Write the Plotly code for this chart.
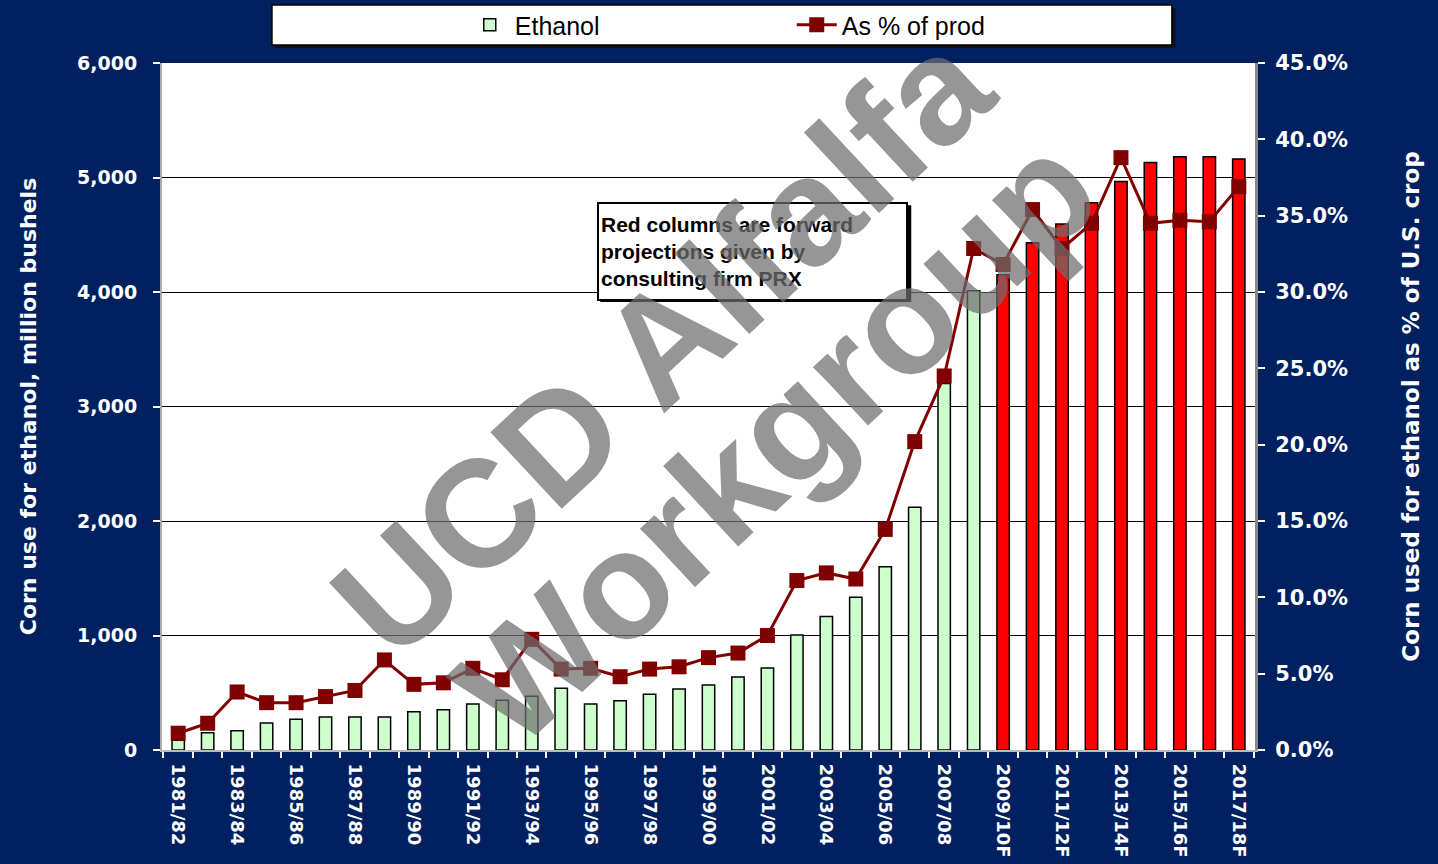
import plotly.graph_objects as go

categories = [f"{y}/{str(y + 1)[-2:]}" + ("F" if y >= 2009 else "") for y in range(1981, 2018)]

ethanol_hist = [85, 151, 169, 236, 268, 288, 288, 288, 335, 352, 402, 434, 469, 539,
                402, 431, 486, 533, 568, 638, 716, 1004, 1165, 1333, 1601, 2119, 3200, 4010]
ethanol_proj = [4150, 4430, 4594, 4780, 4964, 5132, 5182, 5182, 5162]
pct_of_prod = [1.1, 1.75, 3.8, 3.1, 3.1, 3.5, 3.9, 5.9, 4.3, 4.4, 5.35, 4.6, 7.25, 5.3,
               5.35, 4.8, 5.3, 5.45, 6.05, 6.35, 7.5, 11.1, 11.6, 11.2, 14.45, 20.2, 24.5,
               32.85, 31.8, 35.4, 32.85, 34.5, 38.8, 34.5, 34.7, 34.6, 36.9]

left_ticks = [0, 1000, 2000, 3000, 4000, 5000, 6000]
right_ticks = [0, 5, 10, 15, 20, 25, 30, 35, 40, 45]

n_hist = len(ethanol_hist)
hist_cats = categories[:n_hist]
proj_cats = categories[n_hist:]
tick_text = [c if i % 2 == 0 else "" for i, c in enumerate(categories)]

NAVY = "#002060"
FONT = "DejaVu Sans, Arial, sans-serif"

fig = go.Figure()
fig.add_trace(go.Bar(
    x=hist_cats, y=ethanol_hist, name="Ethanol",
    marker=dict(color="#CCFFCC", line=dict(color="black", width=1.5)),
    width=0.42,
))
fig.add_trace(go.Bar(
    x=proj_cats, y=ethanol_proj, name="Ethanol (projected)", showlegend=False,
    marker=dict(color="#FF0000", line=dict(color="black", width=1.5)),
    width=0.42,
))
fig.add_trace(go.Scatter(
    x=categories, y=pct_of_prod, name="As % of prod", yaxis="y2",
    mode="lines+markers",
    line=dict(color="#800000", width=3),
    marker=dict(symbol="square", size=15, color="#800000"),
))

# Legend box and shadow
fig.add_shape(type="rect", xref="paper", yref="paper",
              x0=0.1036, x1=0.9270, y0=1.0218, y1=1.0800,
              fillcolor="#111111", line=dict(width=0), layer="below")
fig.add_shape(type="rect", xref="paper", yref="paper",
              x0=0.1006, x1=0.9240, y0=1.0262, y1=1.0844,
              fillcolor="white", line=dict(color="black", width=1.5), layer="below")

# Note box shadow
fig.add_shape(type="rect", xref="paper", yref="paper",
              x0=0.401, x1=0.6855, y0=0.652, y1=0.793,
              fillcolor="black", line=dict(width=0), layer="above")

fig.add_annotation(
    xref="paper", yref="paper", x=0.398, y=0.7977, xanchor="left", yanchor="top",
    text="Red columns are forward<br>projections given by<br>consulting firm PRX",
    showarrow=False, align="left", width=303, height=91,
    font=dict(family="Liberation Sans, Arial", size=21, color="black", weight="bold"),
    bgcolor="white", bordercolor="black", borderwidth=2, borderpad=2,
)

# Watermark (two lines, rotated)
wm_font = dict(family="Liberation Sans, Arial", size=152, color="rgba(110,110,110,0.72)")
fig.add_annotation(
    xref="paper", yref="paper", x=0.4575, y=0.592, xanchor="center", yanchor="middle",
    text="<b>UCD Alfalfa</b>", showarrow=False, textangle=-43, font=wm_font,
)
fig.add_annotation(
    xref="paper", yref="paper", x=0.5618, y=0.452, xanchor="center", yanchor="middle",
    text="<b>Workgroup</b>", showarrow=False, textangle=-43, font=wm_font,
)

fig.update_layout(
    width=1438, height=864,
    paper_bgcolor=NAVY, plot_bgcolor="white",
    margin=dict(l=162, r=183, t=63, b=114, autoexpand=False),
    barmode="overlay", bargap=0.58,
    showlegend=True,
    legend=dict(orientation="h", x=0.277, y=1.0553, xanchor="left", yanchor="middle",
                bgcolor="rgba(0,0,0,0)", entrywidth=272, entrywidthmode="pixels",
                font=dict(family="Liberation Sans, Arial", size=25, color="black"),
                itemwidth=40),
    xaxis=dict(
        type="category", categoryorder="array", categoryarray=categories,
        tickmode="array", tickvals=categories, ticktext=tick_text,
        tickson="boundaries", ticks="outside", ticklen=6, tickcolor="white", tickwidth=2,
        ticklabelstandoff=8,
        tickangle=90, tickfont=dict(family=FONT, size=18, color="white", weight="bold"),
        showgrid=False, showline=True, linecolor="#BBBBBB", linewidth=2,
        range=[-0.55, len(categories) - 0.45],
    ),
    yaxis=dict(
        range=[0, 6000], tickmode="array", tickvals=left_ticks,
        ticktext=[f"{v:,}" for v in left_ticks],
        tickfont=dict(family=FONT, size=19, color="white", weight="bold"),
        ticks="outside", ticklen=7, tickcolor="white", tickwidth=2, ticklabelstandoff=12,
        showgrid=True, gridcolor="black", gridwidth=1.3,
        showline=True, linecolor="#AAAAAA", linewidth=2, zeroline=False,
        title=dict(text="<b>Corn use for ethanol, million bushels</b>", standoff=34,
                   font=dict(family=FONT, size=22, color="white")),
    ),
    yaxis2=dict(
        overlaying="y", side="right", range=[0, 45], tickmode="array",
        tickvals=right_ticks, ticktext=[f"{v:.1f}%" for v in right_ticks],
        tickfont=dict(family=FONT, size=21, color="white", weight="bold"),
        ticks="outside", ticklen=7, tickcolor="white", tickwidth=2, ticklabelstandoff=6,
        showgrid=False, showline=True, linecolor="#888888", linewidth=3, zeroline=False,
        title=dict(text="<b>Corn used for ethanol as % of U.S. crop</b>", standoff=56,
                   font=dict(family=FONT, size=23, color="white")),
    ),
)

fig.write_html("out.html", config={"displayModeBar": False},
               post_script="document.body.style.margin='0';document.body.style.overflow='hidden';")
